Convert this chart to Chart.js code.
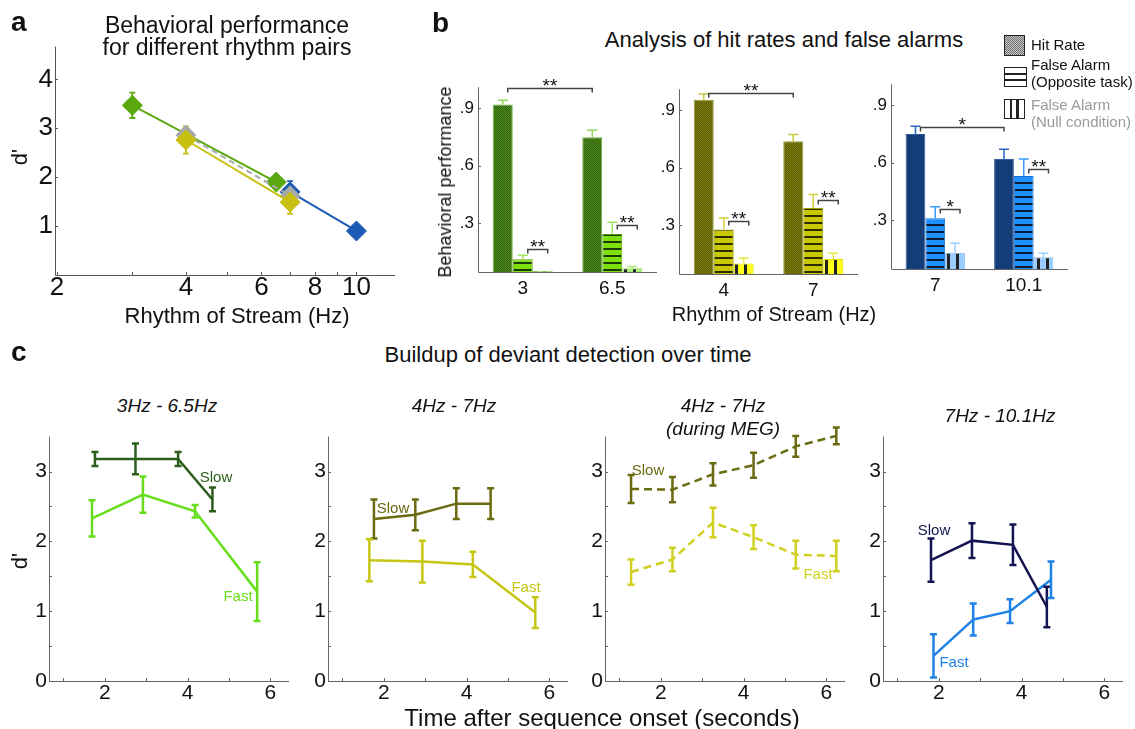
<!DOCTYPE html>
<html><head><meta charset="utf-8">
<script src="https://cdn.jsdelivr.net/npm/chart.js@4.4.1/dist/chart.umd.min.js"></script>
<style>
html,body{margin:0;padding:0;background:#fff;}
#root{position:relative;width:1135px;height:729px;overflow:hidden;font-family:"Liberation Sans",Arial,Helvetica,sans-serif;color:#111;}
.t{position:absolute;white-space:nowrap;line-height:1;}
canvas{position:absolute;}
</style></head><body><div id="root"></div>
<script>
// ================= DATA =================
// Panel a : d' versus rhythm (Hz)
const aGreenHz = [3, 6.5],  aGreenD = [3.47, 1.90], aGreenErr = [0.26, 0.08];
const aYellowHz = [4, 7],   aYellowD = [2.76, 1.49], aYellowErr = [0.28, 0.24];
const aGrayHz = [4, 7],     aGrayD = [2.86, 1.62];
const aBlueHz = [7, 10],    aBlueD = [1.70, 0.90], aBlueErr = [0.22, 0.10];
const aXTicks = [2, 4, 6, 8, 10], aXMinor = [3, 5, 7, 9], aYTicks = [1, 2, 3, 4];

// Panel b : hit rates & false alarms
const b1Cats = ['3', '6.5'];
const b1Hit = [0.92, 0.749], b1HitErr = [0.022, 0.036];
const b1FA = [0.111, 0.243], b1FAErr = [0.022, 0.062];
const b1Null = [0.052, 0.065], b1NullErr = [0, 0.009];
const b1Sig = [1.008, 0.167, 0.29], b1SigTxt = ['**', '**', '**'];

const b2Cats = ['4', '7'];
const b2Hit = [0.955, 0.738], b2HitErr = [0.03, 0.035];
const b2FA = [0.277, 0.39], b2FAErr = [0.061, 0.07];
const b2Null = [0.10, 0.123], b2NullErr = [0.028, 0.03];
const b2Sig = [0.992, 0.32, 0.433], b2SigTxt = ['**', '**', '**'];

const b3Cats = ['7', '10.1'];
const b3Hit = [0.75, 0.62], b3HitErr = [0.04, 0.05];
const b3FA = [0.31, 0.53], b3FAErr = [0.06, 0.09];
const b3Null = [0.13, 0.106], b3NullErr = [0.05, 0.021];
const b3Sig = [0.787, 0.356, 0.567], b3SigTxt = ['*', '*', '**'];
const bYTicks = [0.3, 0.6, 0.9];

// Panel c : buildup over time
const c1SlowX = [1.76, 2.74, 3.77, 4.60], c1SlowY = [3.18, 3.18, 3.18, 2.60], c1SlowErr = [0.10, 0.22, 0.10, 0.17];
const c1FastX = [1.69, 2.92, 4.18, 5.68], c1FastY = [2.33, 2.67, 2.43, 1.28], c1FastErr = [0.26, 0.26, 0.09, 0.42];
const c2SlowX = [1.76, 2.76, 3.75, 4.58], c2SlowY = [2.32, 2.38, 2.54, 2.54], c2SlowErr = [0.28, 0.22, 0.22, 0.22];
const c2FastX = [1.65, 2.93, 4.15, 5.66], c2FastY = [1.73, 1.71, 1.67, 0.98], c2FastErr = [0.30, 0.30, 0.18, 0.22];
const c3X = [1.28, 2.28, 3.26, 4.24, 5.26, 6.24];
const c3SlowY = [2.75, 2.74, 2.96, 3.09, 3.36, 3.51], c3SlowErr = [0.20, 0.18, 0.16, 0.18, 0.15, 0.12];
const c3FastY = [1.56, 1.74, 2.27, 2.06, 1.81, 1.79], c3FastErr = [0.18, 0.17, 0.21, 0.17, 0.20, 0.22];
const c4SlowX = [1.81, 2.80, 3.79, 4.61], c4SlowY = [1.73, 2.01, 1.95, 1.06], c4SlowErr = [0.31, 0.25, 0.29, 0.29];
const c4FastX = [1.87, 2.83, 3.72, 4.71], c4FastY = [0.36, 0.88, 1.00, 1.45], c4FastErr = [0.31, 0.23, 0.17, 0.26];
const cXTicks = [2, 4, 6], cXMinor = [1, 3, 5], cYTicks = [0, 1, 2, 3], cYMinor = [0.5, 1.5, 2.5];

// ================= HELPERS =================
const root = document.getElementById('root');
const FONT = '"Liberation Sans", Arial, Helvetica, sans-serif';
Chart.defaults.font.family = FONT;
Chart.defaults.color = '#111';

function txt(s, x, base, size, o = {}) {
  const d = document.createElement('div'); d.className = 't'; d.textContent = s;
  d.style.fontSize = size + 'px'; d.style.top = (base - 0.8465 * size) + 'px'; d.style.left = x + 'px';
  if (o.weight) d.style.fontWeight = o.weight;
  if (o.italic) d.style.fontStyle = 'italic';
  if (o.color) d.style.color = o.color;
  if (o.center) d.style.transform = 'translateX(-50%)';
  root.appendChild(d); return d;
}
function vtxt(s, cx, cy, size) {
  const d = document.createElement('div'); d.className = 't'; d.textContent = s;
  d.style.fontSize = size + 'px'; d.style.left = cx + 'px'; d.style.top = cy + 'px';
  d.style.transform = 'translate(-50%,-50%) rotate(-90deg)';
  root.appendChild(d); return d;
}
function zip(xs, ys) { return xs.map((x, i) => ({ x: x, y: ys[i] })); }

function checker(c1, c2) {
  const p = document.createElement('canvas'); p.width = 2; p.height = 2;
  const g = p.getContext('2d'); g.fillStyle = c1; g.fillRect(0, 0, 2, 2);
  g.fillStyle = c2; g.fillRect(0, 0, 1, 1); g.fillRect(1, 1, 1, 1);
  return g.createPattern(p, 'repeat');
}
function hstripes(base, stripe, period, w) {
  const p = document.createElement('canvas'); p.width = 4; p.height = period;
  const g = p.getContext('2d'); g.fillStyle = base; g.fillRect(0, 0, 4, period);
  g.fillStyle = stripe; g.fillRect(0, 0, 4, w);
  return g.createPattern(p, 'repeat');
}
function vstripes(base, stripe, period, w) {
  const p = document.createElement('canvas'); p.width = period; p.height = 4;
  const g = p.getContext('2d'); g.fillStyle = base; g.fillRect(0, 0, period, 4);
  g.fillStyle = stripe; g.fillRect(0, 0, w, 4);
  return g.createPattern(p, 'repeat');
}

// ---- plugins ----
function drawErr(chart) {
  const ctx = chart.ctx, ys = chart.scales.y;
  chart.data.datasets.forEach((ds, i) => {
    if (!ds.errors) return;
    const meta = chart.getDatasetMeta(i);
    ctx.save(); ctx.strokeStyle = ds.errColor || ds.borderColor; ctx.lineWidth = ds.errWidth || 1.5; ctx.setLineDash([]);
    meta.data.forEach((el, j) => {
      const e = ds.errors[j]; if (!e) return;
      const raw = ds.data[j]; const v = (typeof raw === 'object') ? raw.y : raw;
      const x = el.x, yT = ys.getPixelForValue(v + e);
      const yB = ds.errUpOnly ? ys.getPixelForValue(v) : ys.getPixelForValue(v - e);
      const cw = (ds.capWidth || 6) / 2;
      ctx.beginPath(); ctx.moveTo(x, yT); ctx.lineTo(x, yB);
      ctx.moveTo(x - cw, yT); ctx.lineTo(x + cw, yT);
      if (!ds.errUpOnly) { ctx.moveTo(x - cw, yB); ctx.lineTo(x + cw, yB); }
      ctx.stroke();
    });
    ctx.restore();
  });
}
const errPlugin = {
  id: 'errBars',
  beforeDatasetsDraw(chart, a, o) { if (o.on && o.before) drawErr(chart); },
  afterDatasetsDraw(chart, a, o) { if (o.on && !o.before) drawErr(chart); }
};
const axesPlugin = {
  id: 'axesLines',
  beforeDatasetsDraw(chart, a, o) {
    if (!o.on) return;
    const ctx = chart.ctx, ca = chart.chartArea, xs = chart.scales.x, ys = chart.scales.y;
    ctx.save(); ctx.strokeStyle = o.color || '#555'; ctx.lineWidth = 1; ctx.beginPath();
    ctx.moveTo(ca.left + 0.5, ca.top); ctx.lineTo(ca.left + 0.5, ca.bottom + 0.5); ctx.lineTo(ca.right, ca.bottom + 0.5);
    const L = o.len || 3;
    (o.xt || []).forEach(v => { const p = Math.round(xs.getPixelForValue(v)) + 0.5; ctx.moveTo(p, ca.bottom); ctx.lineTo(p, ca.bottom - L); });
    (o.yt || []).forEach(v => { const p = Math.round(ys.getPixelForValue(v)) + 0.5; ctx.moveTo(ca.left, p); ctx.lineTo(ca.left + L, p); });
    ctx.stroke(); ctx.restore();
  }
};
const sigPlugin = {
  id: 'sig',
  afterDatasetsDraw(chart, a, o) {
    if (!o.on) return;
    const ctx = chart.ctx, ys = chart.scales.y;
    const hit = chart.getDatasetMeta(0).data, fa = chart.getDatasetMeta(1).data, nu = chart.getDatasetMeta(2).data;
    ctx.save(); ctx.strokeStyle = '#444'; ctx.lineWidth = 1.5; ctx.fillStyle = '#111';
    ctx.font = '19px ' + FONT; ctx.textAlign = 'center'; ctx.textBaseline = 'alphabetic';
    const br = (x1, x2, v, t) => {
      const y = Math.round(ys.getPixelForValue(v)) + 0.5;
      ctx.beginPath(); ctx.moveTo(x1, y + 4); ctx.lineTo(x1, y); ctx.lineTo(x2, y); ctx.lineTo(x2, y + 4); ctx.stroke();
      ctx.fillText(t, (x1 + x2) / 2, y + 3);
    };
    br(hit[0].x + 5, hit[1].x, o.levels[0], o.texts[0]);
    br(fa[0].x + 5, nu[0].x + 5, o.levels[1], o.texts[1]);
    br(fa[1].x + 5, nu[1].x + 5, o.levels[2], o.texts[2]);
    ctx.restore();
  }
};
Chart.register(errPlugin, axesPlugin, sigPlugin);

function mk(box, pad, config) {
  const c = document.createElement('canvas');
  const W = box[2] - box[0] + pad.l + pad.r, H = box[3] - box[1] + pad.t + pad.b;
  c.width = W; c.height = H; c.style.left = (box[0] - pad.l) + 'px'; c.style.top = (box[1] - pad.t) + 'px';
  c.style.width = W + 'px'; c.style.height = H + 'px';
  root.appendChild(c);
  const op = config.options;
  op.responsive = false; op.animation = false; op.devicePixelRatio = 1; op.events = [];
  op.layout = { padding: { left: 0, top: pad.t, right: pad.r, bottom: 0 } };
  op.plugins = Object.assign({ legend: { display: false }, tooltip: { enabled: false } }, op.plugins || {});
  op.scales.x.afterFit = s => { s.height = pad.b; };
  op.scales.y.afterFit = s => { s.width = pad.l; };
  return new Chart(c, config);
}
function linAxis(min, max, ticks, size, padding, fmt) {
  return {
    type: 'linear', min: min, max: max,
    grid: { display: false, drawTicks: false }, border: { display: false },
    afterBuildTicks: s => { s.ticks = ticks.map(v => ({ value: v })); },
    ticks: { font: { size: size }, padding: padding, color: '#111', autoSkip: false, maxRotation: 0, callback: fmt || (v => String(v)) }
  };
}

// ================= PANEL A =================
const GA = '#58a80e', YA = '#c8c010', BA = '#1b5bb3', GRA = '#aaaaaa';
function aSet(xs, ys, errs, col, dash) {
  return {
    data: zip(xs, ys), borderColor: col, backgroundColor: col, borderWidth: 2, borderDash: dash || [],
    pointStyle: 'rectRot', pointRadius: 10, pointBorderWidth: 1, pointBorderColor: col, pointBackgroundColor: col,
    tension: 0, errors: errs, errColor: col, capWidth: 6, errWidth: 1.8, clip: false
  };
}
mk([55, 37, 400, 275], { l: 50, t: 8, r: 6, b: 34 }, {
  type: 'line',
  data: { datasets: [
    aSet(aYellowHz, aYellowD, aYellowErr, YA),
    aSet(aGrayHz, aGrayD, null, GRA, [6, 4]),
    aSet(aBlueHz, aBlueD, aBlueErr, BA),
    aSet(aGreenHz, aGreenD, aGreenErr, GA)
  ] },
  options: {
    scales: {
      x: Object.assign(linAxis(1.98, 12.3, aXTicks, 26, -3), { type: 'logarithmic' }),
      y: linAxis(0, 4.67, aYTicks, 26, 2)
    },
    plugins: { errBars: { on: true, before: true }, axesLines: { on: true, xt: aXTicks.concat(aXMinor), yt: aYTicks, len: 3 } }
  }
});

// ================= PANEL B =================
function bChart(box, cats, hit, hitE, fa, faE, nul, nulE, cols, sig, sigT) {
  return mk(box, { l: 34, t: 10, r: 4, b: 26 }, {
    type: 'bar',
    data: { labels: cats, datasets: [
      { data: hit, backgroundColor: checker(cols.h1, cols.h2), borderColor: cols.hb, borderWidth: 1,
        errors: hitE, errUpOnly: true, errColor: cols.he, capWidth: 10, errWidth: 1.5 },
      { data: fa, backgroundColor: hstripes(cols.f, cols.fs, 7, 2), borderColor: cols.fb, borderWidth: 1,
        errors: faE, errUpOnly: true, errColor: cols.fe, capWidth: 10, errWidth: 1.5 },
      { data: nul, backgroundColor: vstripes(cols.n, '#222', 9, 3), borderColor: cols.nb, borderWidth: 1,
        errors: nulE, errUpOnly: true, errColor: cols.ne, capWidth: 10, errWidth: 1.5 }
    ] },
    options: {
      datasets: { bar: { categoryPercentage: 0.67, barPercentage: 1.0 } },
      scales: {
        x: { type: 'category', offset: true, grid: { display: false, drawTicks: false }, border: { display: false },
             ticks: { font: { size: 19 }, padding: 5, color: '#111', maxRotation: 0 } },
        y: linAxis(0.045, 1.01, bYTicks, 17, 4, v => '.' + Math.round(v * 10))
      },
      plugins: { errBars: { on: true }, axesLines: { on: true, yt: bYTicks, len: 3, color: '#666' },
                 sig: { on: true, levels: sig, texts: sigT } }
    }
  });
}
bChart([478, 83, 657, 272], b1Cats, b1Hit, b1HitErr, b1FA, b1FAErr, b1Null, b1NullErr,
  { h1: '#336a0e', h2: '#4a821c', hb: '#6fb03a', he: '#8fd858', f: '#7ee00a', fs: '#1c3a06', fb: '#5aa010', fe: '#9be860',
    n: '#a8f070', nb: '#90d860', ne: '#a8f070' }, b1Sig, b1SigTxt);
bChart([679, 85, 858, 274], b2Cats, b2Hit, b2HitErr, b2FA, b2FAErr, b2Null, b2NullErr,
  { h1: '#626204', h2: '#78780f', hb: '#9a9a30', he: '#c8c840', f: '#cac800', fs: '#2c2c00', fb: '#a0a000', fe: '#d4d040',
    n: '#ffff1a', nb: '#e0e000', ne: '#e8e840' }, b2Sig, b2SigTxt);
bChart([891, 80, 1068, 269], b3Cats, b3Hit, b3HitErr, b3FA, b3FAErr, b3Null, b3NullErr,
  { h1: '#0c336c', h2: '#1a4684', hb: '#2a5aa0', he: '#2a64c0', f: '#1e90ff', fs: '#0a1a33', fb: '#1670d0', fe: '#3a9cff',
    n: '#99ccff', nb: '#88bbee', ne: '#9ccfff' }, b3Sig, b3SigTxt);

// ================= PANEL C =================
function cSet(xs, ys, errs, col, dash) {
  return { data: zip(xs, ys), borderColor: col, backgroundColor: col, borderWidth: 2.5, borderDash: dash || [],
           pointRadius: 0, tension: 0, errors: errs, errColor: col, capWidth: 7, errWidth: 2.5, clip: false };
}
function cChart(box, sets) {
  return mk(box, { l: 40, t: 14, r: 10, b: 28 }, {
    type: 'line',
    data: { datasets: sets },
    options: {
      scales: { x: linAxis(0.65, 6.45, cXTicks, 21, 0), y: linAxis(0, 3.5, cYTicks, 21, 2) },
      plugins: { errBars: { on: true }, axesLines: { on: true, xt: cXTicks.concat(cXMinor), yt: cYTicks.concat(cYMinor), len: 3, color: '#666' } }
    }
  });
}
cChart([49, 436, 289, 681], [cSet(c1SlowX, c1SlowY, c1SlowErr, '#2c5e1c'), cSet(c1FastX, c1FastY, c1FastErr, '#66de1c')]);
cChart([328, 436, 568, 681], [cSet(c2SlowX, c2SlowY, c2SlowErr, '#6a6a10'), cSet(c2FastX, c2FastY, c2FastErr, '#c6c614')]);
cChart([605, 436, 845, 681], [cSet(c3X, c3SlowY, c3SlowErr, '#6a6a10', [8, 5]), cSet(c3X, c3FastY, c3FastErr, '#d0d020', [8, 5])]);
cChart([883, 436, 1123, 681], [cSet(c4SlowX, c4SlowY, c4SlowErr, '#141452'), cSet(c4FastX, c4FastY, c4FastErr, '#1e82e6')]);

// ================= TEXT =================
txt('a', 11, 32, 28, { weight: 'bold' });
txt('Behavioral performance', 227, 33, 23, { center: true });
txt('for different rhythm pairs', 227, 55, 23, { center: true });
vtxt("d'", 20, 157, 22);
txt('Rhythm of Stream (Hz)', 237, 324, 22, { center: true });

txt('b', 432, 33, 28, { weight: 'bold' });
txt('Analysis of hit rates and false alarms', 784, 48, 22, { center: true });
vtxt('Behavioral performance', 445, 182, 18);
txt('Rhythm of Stream (Hz)', 774, 321, 20, { center: true });

// legend
function sw(l, t, w, h, bg) {
  const d = document.createElement('div');
  d.style.cssText = 'position:absolute;box-sizing:border-box;left:' + l + 'px;top:' + t + 'px;width:' + w + 'px;height:' + h + 'px;border:1.5px solid #222;background:' + bg;
  root.appendChild(d);
}
sw(1004, 35, 21, 21, 'repeating-conic-gradient(#6e6e6e 0 25%, #c8c8c8 0 50%) 0 0/2px 2px');
sw(1004, 67, 23, 20, 'linear-gradient(to bottom,#fff 0 30%,#222 30% 40%,#fff 40% 62%,#222 62% 72%,#fff 72%)');
sw(1004, 99, 21, 20, 'linear-gradient(to right,#fff 0 26%,#222 26% 38%,#fff 38% 60%,#222 60% 72%,#fff 72%)');
txt('Hit Rate', 1031, 50, 15);
txt('False Alarm', 1031, 70, 15);
txt('(Opposite task)', 1031, 87, 15);
txt('False Alarm', 1031, 110, 15, { color: '#9a9a9a' });
txt('(Null condition)', 1031, 127, 15, { color: '#9a9a9a' });

txt('c', 11, 362, 28, { weight: 'bold' });
txt('Buildup of deviant detection over time', 568, 363, 22, { center: true });
txt('3Hz - 6.5Hz', 167, 412, 19, { center: true, italic: true });
txt('4Hz - 7Hz', 454, 412, 19, { center: true, italic: true });
txt('4Hz - 7Hz', 723, 412, 19, { center: true, italic: true });
txt('(during MEG)', 723, 435, 19, { center: true, italic: true });
txt('7Hz - 10.1Hz', 1000, 422, 19, { center: true, italic: true });
vtxt("d'", 20, 561, 22);
txt('Time after sequence onset (seconds)', 602, 726, 24, { center: true });

txt('Slow', 216, 482, 15, { center: true, color: '#2c5e1c' });
txt('Fast', 238, 601, 15, { center: true, color: '#66de1c' });
txt('Slow', 393, 513, 15, { center: true, color: '#6a6a10' });
txt('Fast', 526, 592, 15, { center: true, color: '#c6c614' });
txt('Slow', 648, 475, 15, { center: true, color: '#6a6a10' });
txt('Fast', 818, 579, 15, { center: true, color: '#d0d020' });
txt('Slow', 934, 535, 15, { center: true, color: '#141452' });
txt('Fast', 954, 667, 15, { center: true, color: '#1e82e6' });
</script></body></html>
